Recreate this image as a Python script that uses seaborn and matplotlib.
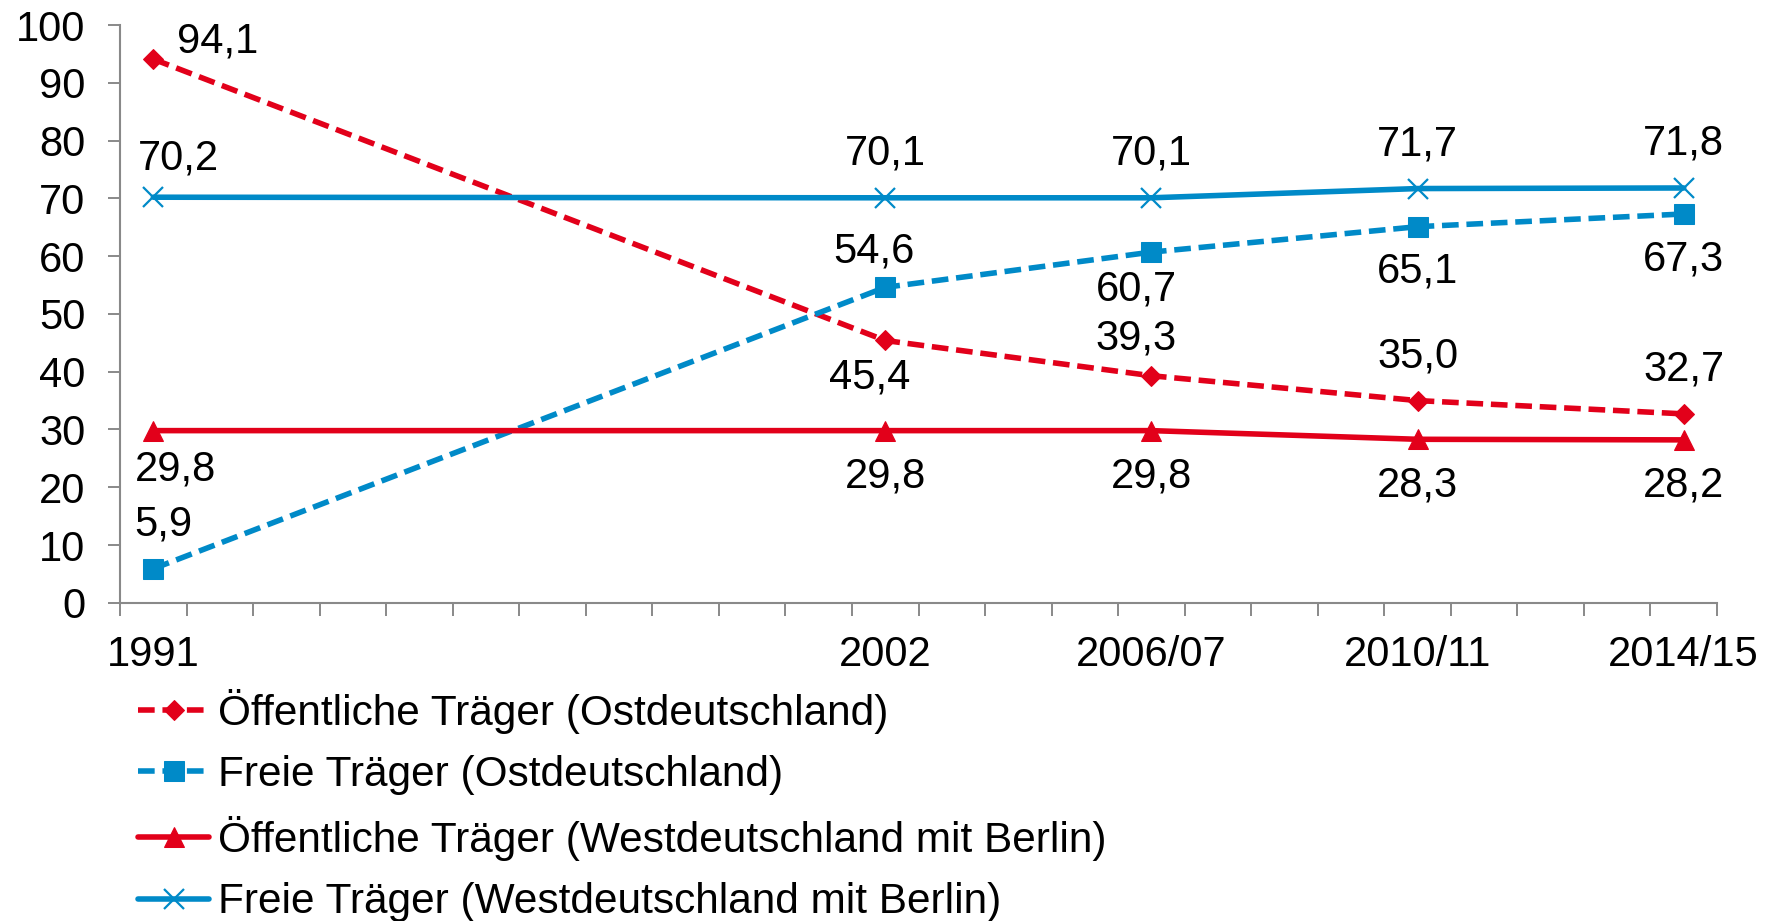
import matplotlib
matplotlib.use('Agg')

import numpy as np
import pandas as pd
import matplotlib.pyplot as plt
import seaborn as sns
from matplotlib.ticker import FixedLocator, MultipleLocator

# ------------------------------------------------------------------------
# data
# ------------------------------------------------------------------------

years = [1991, 2002, 2006, 2010, 2014]
year_labels = ['1991', '2002', '2006/07', '2010/11', '2014/15']

series_names = ['Öffentliche Träger (Ostdeutschland)',
                'Freie Träger (Ostdeutschland)',
                'Öffentliche Träger (Westdeutschland mit Berlin)',
                'Freie Träger (Westdeutschland mit Berlin)']

oeff_ost = [94.1, 45.4, 39.3, 35.0, 32.7]
freie_ost = [5.9, 54.6, 60.7, 65.1, 67.3]
oeff_west = [29.8, 29.8, 29.8, 28.3, 28.2]
freie_west = [70.2, 70.1, 70.1, 71.7, 71.8]

# ------------------------------------------------------------------------
# style
# ------------------------------------------------------------------------

red = '#E2001A'
blue = '#008AC8'
dash = (0, (3.0, 1.4))

styles = [
    dict(color=red, linestyle=dash, marker='D', markersize=10),
    dict(color=blue, linestyle=dash, marker='s', markersize=14),
    dict(color=red, linestyle='-', marker='^', markersize=15),
    dict(color=blue, linestyle='-', marker='x', markersize=15, markeredgewidth=1.6),
]

# label offsets in points (dx, dy) for each point of each series
offsets = [
    [(46, 13), (-11, -27), (-11, 27), (0, 32), (0, 32)],
    [(7, 32), (-8, 26), (-11, -27), (0, -32), (0, -33)],
    [(16, -28), (0, -33), (0, -33), (0, -33), (0, -33)],
    [(18, 28), (0, 32), (0, 32), (0, 32), (0, 32)],
]

sns.set_theme(style='white')
plt.rcParams['font.family'] = ['Liberation Sans', 'DejaVu Sans']
plt.rcParams['text.color'] = 'black'
plt.rcParams['xtick.labelcolor'] = 'black'
plt.rcParams['ytick.labelcolor'] = 'black'

fig = plt.figure(figsize=(17.71, 9.21), dpi=100)
ax = fig.add_axes([0.0678, 0.3455, 0.9017, 0.6273])

all_values = [oeff_ost, freie_ost, oeff_west, freie_west]

for name, vals, st, offs in zip(series_names, all_values, styles, offsets):
    df = pd.DataFrame({'Jahr': years, 'Wert': vals})
    sns.lineplot(data=df, x='Jahr', y='Wert', ax=ax, label=name,
                 linewidth=4.0, markeredgecolor=st['color'], **st)
    for x, y, (dx, dy) in zip(years, vals, offs):
        ax.annotate(('%.1f' % y).replace('.', ','), (x, y),
                    xytext=(dx, dy), textcoords='offset points',
                    ha='center', va='center', fontsize=30, color='black')

# ------------------------------------------------------------------------
# axes
# ------------------------------------------------------------------------

ax.set_xlim(1990.5, 2014.5)
ax.set_ylim(0, 100)
ax.set_xlabel('')
ax.set_ylabel('')

ax.xaxis.set_major_locator(FixedLocator(years))
ax.set_xticklabels(year_labels)
ax.xaxis.set_minor_locator(FixedLocator(np.arange(1990.5, 2015, 1)))
ax.yaxis.set_major_locator(MultipleLocator(10))

ax.tick_params(axis='x', which='major', length=0, pad=23, labelsize=30)
ax.tick_params(axis='x', which='minor', length=9, width=1.4, color='#898989',
               direction='out', bottom=True)
ax.tick_params(axis='y', which='major', length=9, width=1.4, color='#898989',
               direction='out', left=True, pad=16, labelsize=30)

sns.despine(ax=ax)
for s in ['left', 'bottom']:
    ax.spines[s].set_color('#898989')
    ax.spines[s].set_linewidth(1.5)

ax.grid(False)

handles, labels = ax.get_legend_handles_labels()
ax.get_legend().remove()
fig.legend(handles, labels, loc='upper left', bbox_to_anchor=(0.078, 0.252),
           frameon=False, fontsize=30.5, handlelength=1.68, handletextpad=0.2,
           labelspacing=0.5, borderpad=0, borderaxespad=0)

fig.savefig('out.png', dpi=100)
